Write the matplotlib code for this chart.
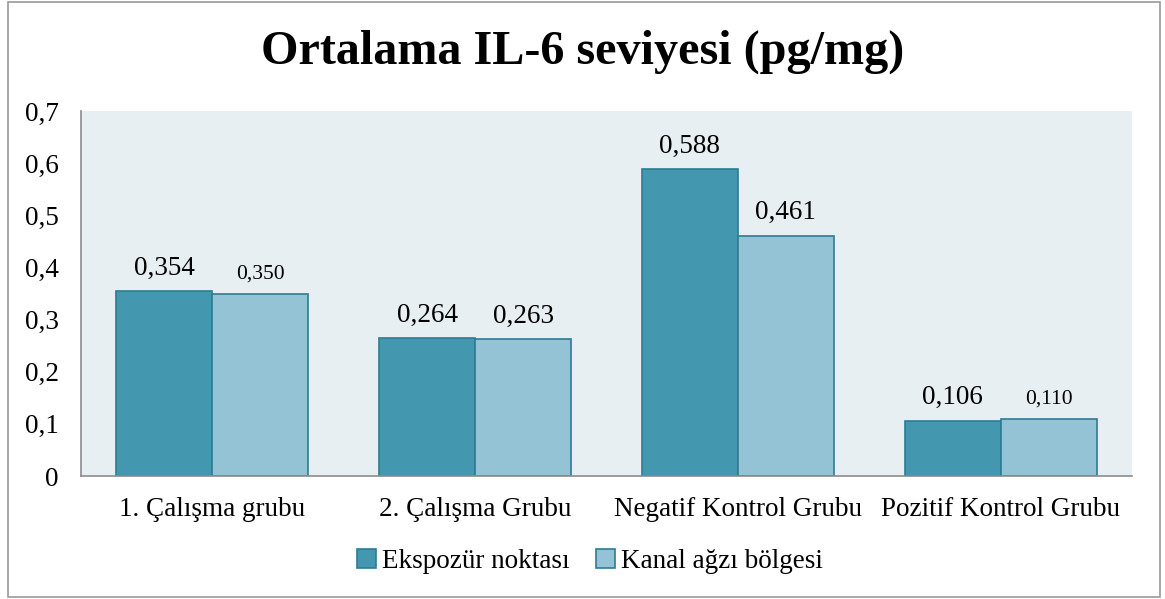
import matplotlib
matplotlib.use("Agg")
import matplotlib.pyplot as plt
import numpy as np
from matplotlib.patches import Rectangle

categories = ["1. Çalışma grubu", "2. Çalışma Grubu", "Negatif Kontrol Grubu", "Pozitif Kontrol Grubu"]
series_names = ["Ekspozür noktası", "Kanal ağzı bölgesi"]
ekspozur = [0.354, 0.264, 0.588, 0.106]
kanal = [0.350, 0.263, 0.461, 0.110]
yticks = [0, 0.1, 0.2, 0.3, 0.4, 0.5, 0.6, 0.7]
ytick_labels = ["0", "0,1", "0,2", "0,3", "0,4", "0,5", "0,6", "0,7"]
small_label_idx = {0, 3}  # kanal labels drawn smaller in the original

plt.rcParams['font.family'] = ['Liberation Serif', 'DejaVu Serif']

fig = plt.figure(figsize=(11.65, 5.99), dpi=100)
fig.patches.append(Rectangle((8/1165, 2/599), 1152/1165, 595/599, transform=fig.transFigure,
                             fill=False, edgecolor='#9a9a9a', linewidth=1.2))

ax = fig.add_axes([81/1165, 1 - 476/599, (1132-81)/1165, (476-111)/599])
ax.set_facecolor('#E8EFF3')

x = np.arange(len(categories))
w = 0.365
dark = '#4397AE'
light = '#93C3D5'
edge = '#2F7C92'
b1 = ax.bar(x - w/2, ekspozur, w, color=dark, edgecolor=edge, linewidth=1.2, label=series_names[0])
b2 = ax.bar(x + w/2, kanal, w, color=light, edgecolor=edge, linewidth=1.2, label=series_names[1])

FS = 19.5
for i, v in enumerate(ekspozur):
    ax.text(x[i] - w/2, v + 0.02, f"{v:.3f}".replace('.', ','), ha='center', va='bottom', fontsize=FS)
for i, v in enumerate(kanal):
    fs = 15.5 if i in small_label_idx else FS
    ax.text(x[i] + w/2, v + 0.02, f"{v:.3f}".replace('.', ','), ha='center', va='bottom', fontsize=fs)

ax.set_xlim(-0.5, len(categories) - 0.5)
ax.set_ylim(0, 0.7)
ax.set_yticks(yticks)
ax.set_yticklabels(ytick_labels, fontsize=FS)
ax.set_xticks(x)
ax.set_xticklabels(categories, fontsize=FS)
ax.tick_params(axis='both', length=0)
ax.tick_params(axis='y', pad=16)
ax.tick_params(axis='x', pad=15)
for s in ['top', 'right']:
    ax.spines[s].set_visible(False)
ax.spines['left'].set_color('#8c8c8c')
ax.spines['bottom'].set_color('#8c8c8c')
ax.spines['left'].set_linewidth(1.2)
ax.spines['bottom'].set_linewidth(1.2)

fig.text(0.5, 1 - 52/599, "Ortalama IL-6 seviyesi (pg/mg)", ha='center', va='center',
         fontsize=34.7, fontweight='bold')

leg = fig.legend(handles=[b1, b2], labels=series_names, loc='center', bbox_to_anchor=(590/1165, 1 - 561/599),
                 ncol=2, frameon=False, fontsize=FS, handlelength=0.7, handleheight=0.7,
                 handletextpad=0.2, columnspacing=1.0)

fig.savefig("out.png", dpi=100)
